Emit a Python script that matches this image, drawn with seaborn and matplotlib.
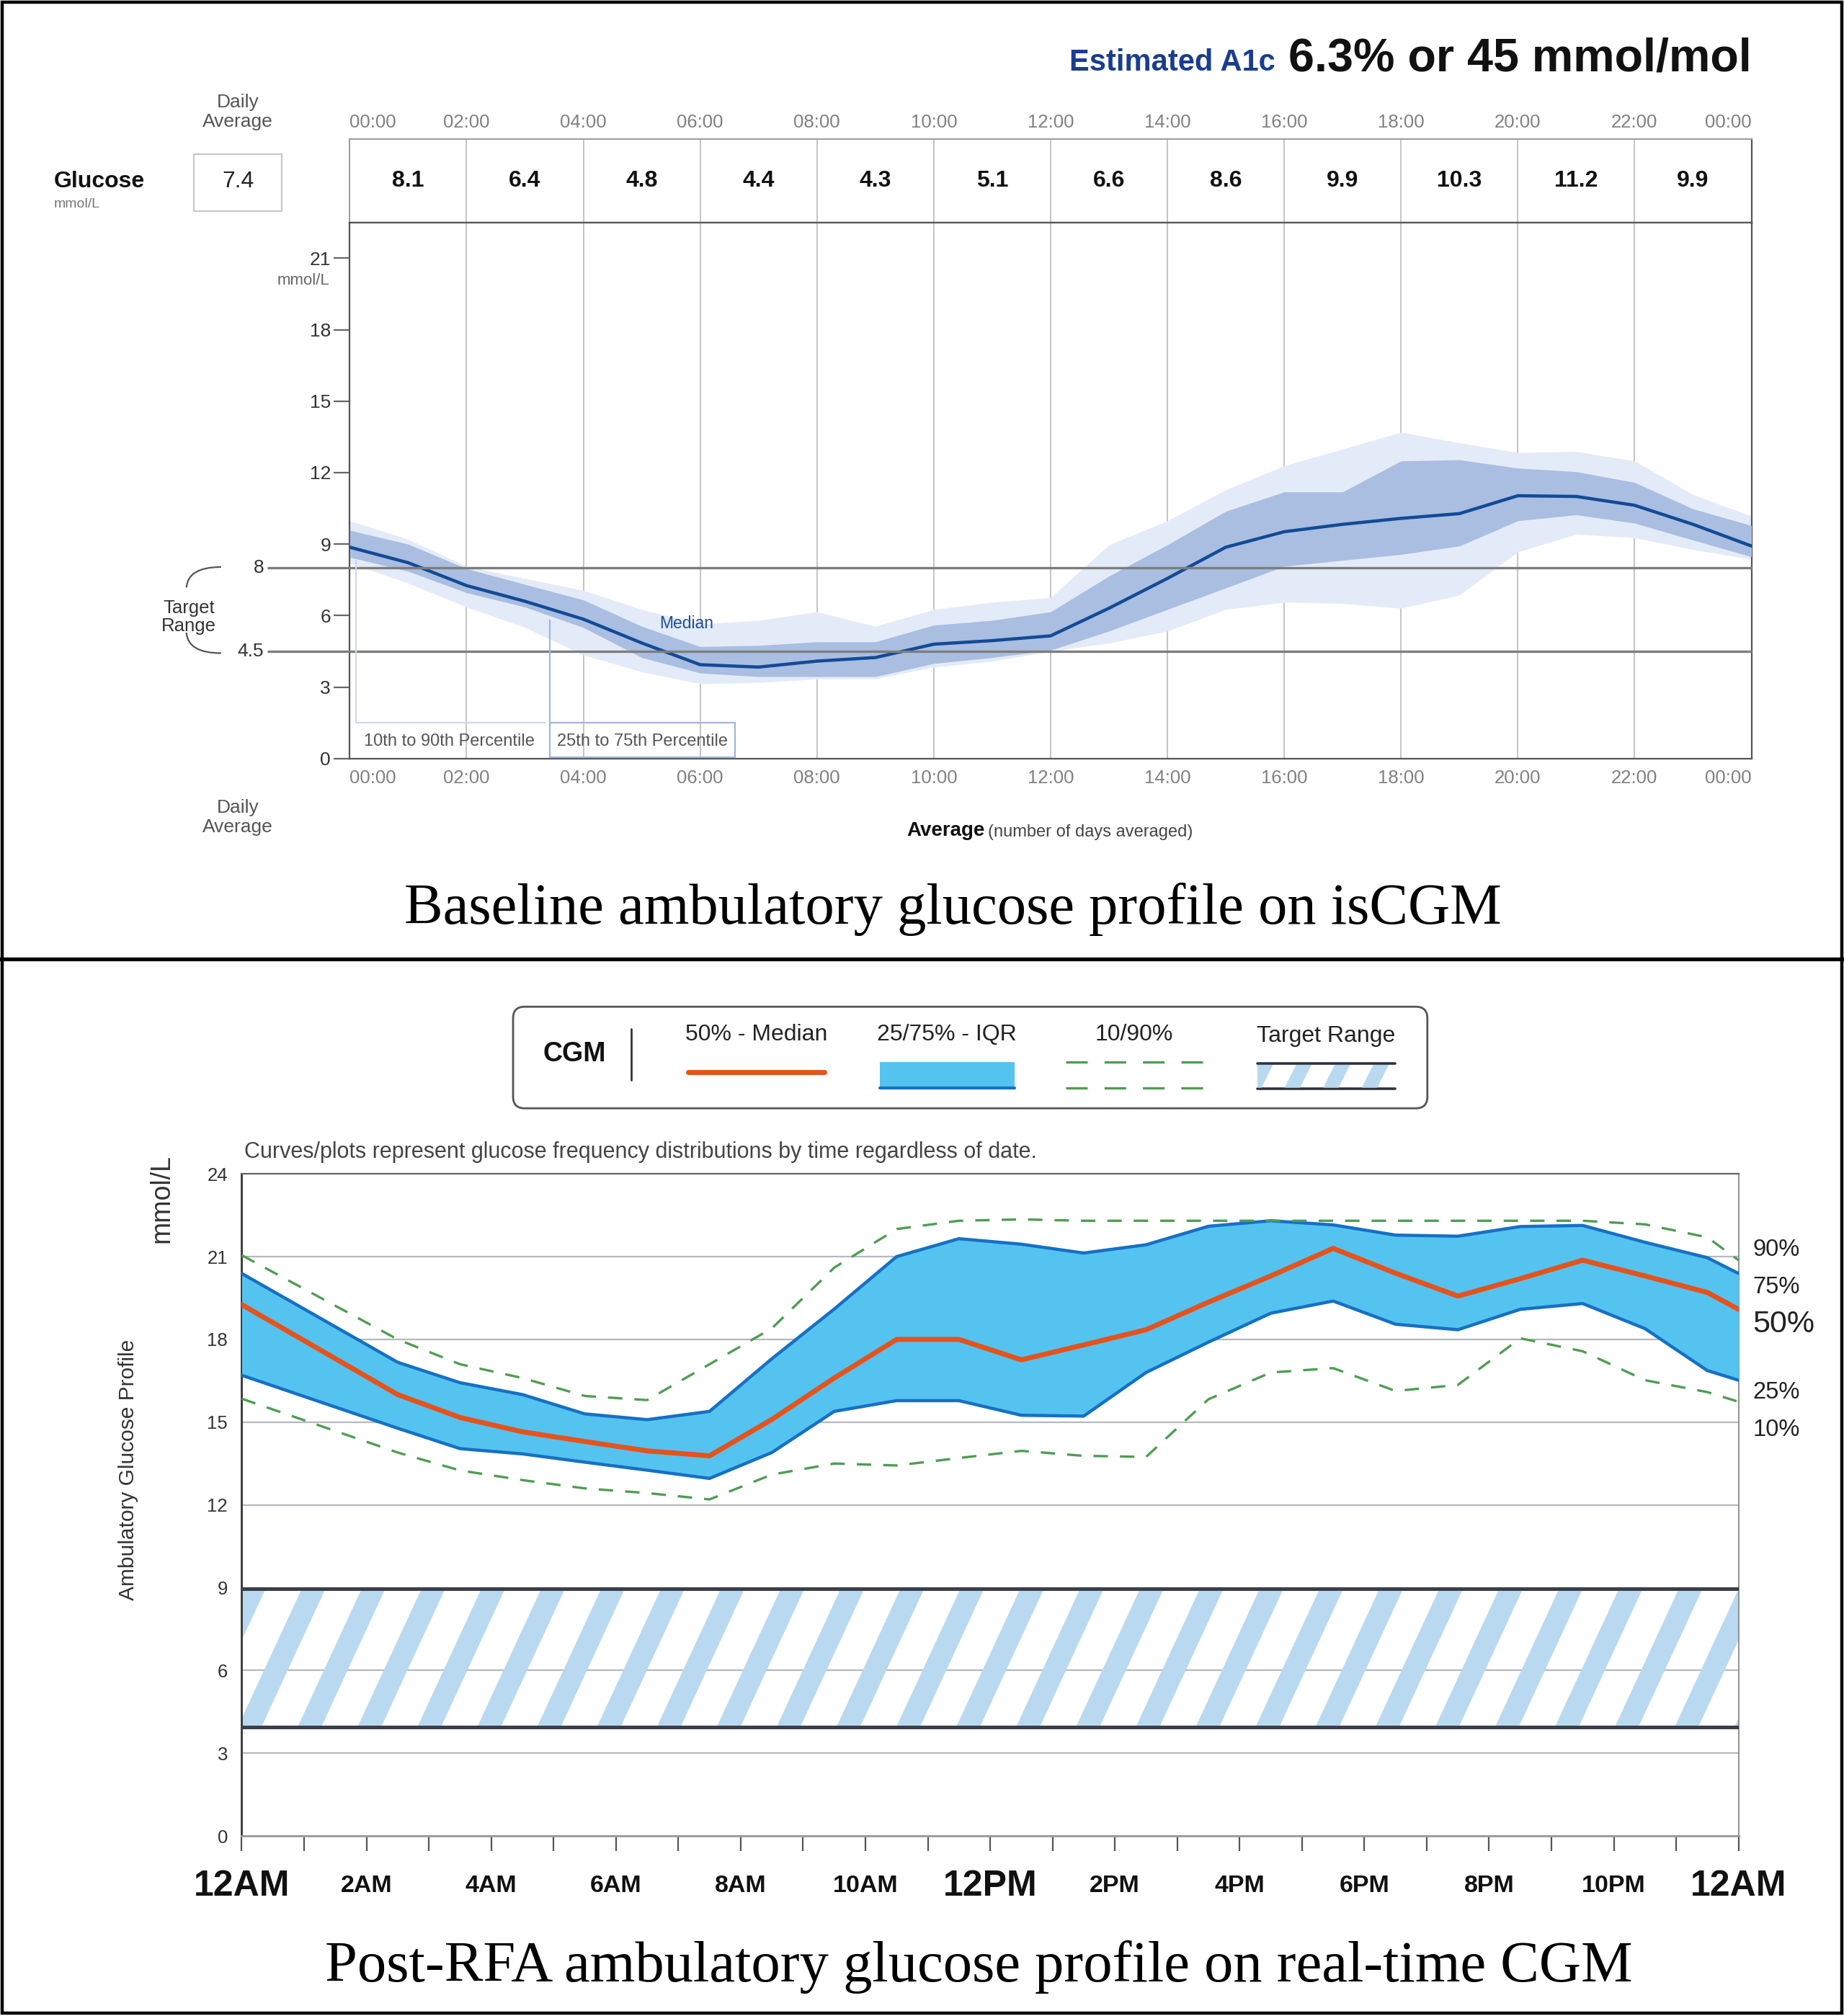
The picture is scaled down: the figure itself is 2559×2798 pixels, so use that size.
import numpy as np
import pandas as pd
import matplotlib
matplotlib.use("Agg")
import matplotlib.pyplot as plt
import seaborn as sns
from matplotlib.patches import Rectangle, FancyBboxPatch, Polygon, PathPatch
from matplotlib.path import Path

# ---------------- DATA: baseline isCGM profile (top) ----------------
hours_top = list(range(25))
median_top = [8.87, 8.22, 7.26, 6.60, 5.85, 4.85, 3.94, 3.84, 4.09, 4.24, 4.80, 4.95, 5.15,
              6.31, 7.56, 8.87, 9.52, 9.83, 10.08, 10.28, 11.03, 11.00, 10.63, 9.83, 8.92]
p75_top = [9.58, 9.00, 7.97, 7.31, 6.66, 5.55, 4.70, 4.75, 4.90, 4.90, 5.60, 5.80, 6.16,
           7.66, 8.97, 10.38, 11.19, 11.19, 12.49, 12.54, 12.19, 12.04, 11.59, 10.48, 9.78]
p25_top = [8.45, 7.86, 6.96, 6.36, 5.50, 4.24, 3.59, 3.44, 3.44, 3.44, 3.99, 4.24, 4.55,
           5.35, 6.26, 7.16, 8.07, 8.32, 8.57, 8.92, 9.98, 10.23, 9.88, 9.17, 8.47]
p90_top = [9.98, 9.20, 8.07, 7.56, 7.06, 6.26, 5.65, 5.80, 6.16, 5.55, 6.26, 6.56, 6.76,
           8.97, 9.98, 11.28, 12.29, 12.99, 13.70, 13.25, 12.84, 12.89, 12.49, 11.08, 10.18]
p10_top = [8.20, 7.36, 6.36, 5.50, 4.35, 3.64, 3.14, 3.19, 3.34, 3.35, 3.84, 4.09, 4.50,
           4.85, 5.35, 6.26, 6.56, 6.51, 6.31, 6.86, 8.67, 9.42, 9.27, 8.77, 8.37]
target_top = [4.5, 8.0]
header_avgs = [8.1, 6.4, 4.8, 4.4, 4.3, 5.1, 6.6, 8.6, 9.9, 10.3, 11.2, 9.9]
daily_avg = 7.4
time_ticks = list(range(0, 25, 2))
time_labels = ["00:00", "02:00", "04:00", "06:00", "08:00", "10:00", "12:00",
               "14:00", "16:00", "18:00", "20:00", "22:00", "00:00"]
top_yticks = [0, 3, 6, 9, 12, 15, 18, 21]

# ---------------- DATA: post-RFA real-time CGM profile (bottom) ----------------
hours_cgm = [0, 2.5, 3.5, 4.5, 5.5, 6.5, 7.5, 8.5, 9.5, 10.5, 11.5, 12.5, 13.5, 14.5,
             15.5, 16.5, 17.5, 18.5, 19.5, 20.5, 21.5, 22.5, 23.5, 24]
median_cgm = [19.26, 16.00, 15.17, 14.65, 14.30, 13.96, 13.78, 15.10, 16.60, 18.00, 18.00, 17.26,
              17.80, 18.35, 19.35, 20.30, 21.30, 20.40, 19.57, 20.20, 20.87, 20.30, 19.70, 19.09]
p75_cgm = [20.39, 17.17, 16.43, 16.00, 15.30, 15.09, 15.39, 17.30, 19.10, 21.00, 21.65, 21.45,
           21.13, 21.43, 22.10, 22.30, 22.15, 21.78, 21.74, 22.09, 22.13, 21.52, 20.96, 20.39]
p25_cgm = [16.70, 14.78, 14.04, 13.85, 13.55, 13.26, 12.96, 13.90, 15.39, 15.78, 15.78, 15.25,
           15.22, 16.80, 17.90, 18.95, 19.39, 18.55, 18.35, 19.09, 19.30, 18.39, 16.87, 16.52]
p90_cgm = [21.05, 18.00, 17.10, 16.60, 15.95, 15.80, 17.10, 18.40, 20.60, 22.00, 22.30, 22.35,
           22.30, 22.30, 22.30, 22.30, 22.30, 22.30, 22.30, 22.30, 22.30, 22.17, 21.70, 20.87]
p10_cgm = [15.85, 13.90, 13.25, 12.90, 12.60, 12.43, 12.20, 13.10, 13.50, 13.43, 13.70, 13.96,
           13.78, 13.74, 15.83, 16.80, 16.96, 16.13, 16.35, 18.04, 17.57, 16.52, 16.09, 15.74]
target_cgm = [3.95, 8.95]
cgm_ticks = list(range(0, 25, 2))
cgm_labels = ["12AM", "2AM", "4AM", "6AM", "8AM", "10AM", "12PM",
              "2PM", "4PM", "6PM", "8PM", "10PM", "12AM"]
cgm_yticks = list(range(0, 25, 3))
right_pct_labels = ["90%", "75%", "50%", "25%", "10%"]

# ---------------- style ----------------
sns.set_theme(style="white")
plt.rcParams["font.family"] = ["Liberation Sans", "DejaVu Sans"]
SERIF = "Liberation Serif"

PX_W, PX_H = 1434, 1568
fig = plt.figure(figsize=(25.59, 27.98), dpi=100)
fig.patch.set_facecolor("white")


def rect(x0, y0, x1, y1):
    return [x0 / PX_W, 1 - y1 / PX_H, (x1 - x0) / PX_W, (y1 - y0) / PX_H]


ax0 = fig.add_axes(rect(272, 108, 1362, 173))   # header row
ax1 = fig.add_axes(rect(272, 173, 1362, 590))   # baseline AGP
ax2 = fig.add_axes(rect(188, 913, 1352, 1428))  # post-RFA AGP
cv = fig.add_axes([0, 0, 1, 1])                 # annotation canvas
cv.set_zorder(10)
cv.patch.set_alpha(0)
cv.axis("off")

# ======================= TOP CHART =======================
ax1.fill_between(hours_top, p10_top, p90_top, color="#e4ebf8", lw=0, zorder=2)
ax1.fill_between(hours_top, p25_top, p75_top, color="#a9bee1", lw=0, zorder=3)
sns.lineplot(x=hours_top, y=median_top, ax=ax1, color="#134a95", lw=3.2, zorder=4)
ax1.hlines(target_top, -1.41, 24, colors="#7d7d7d", lw=2.4, clip_on=False, zorder=5)
ax1.set_xlim(0, 24)
ax1.set_ylim(0, 22.5)
ax1.set_xticks(time_ticks)
ax1.set_xticklabels(time_labels)
ax1.set_yticks(top_yticks)
ax1.grid(axis="x", color="#c4c4c4", lw=1.4, zorder=1)
ax1.grid(axis="y", visible=False)
ax1.tick_params(axis="x", length=0, pad=11, labelsize=18.5, labelcolor="#808080")
ax1.tick_params(axis="y", length=16, width=1.6, color="#666666", labelsize=19,
                labelcolor="#333333", pad=3, left=True)
for s in ax1.spines.values():
    s.set_color("#555555")
    s.set_linewidth(1.6)
labs = ax1.get_xticklabels()
labs[0].set_ha("left")
labs[-1].set_ha("right")

ax1.text(5.77, 5.67, "Median", color="#1f4e9a", fontsize=16.5, ha="center", va="center", zorder=6)
# percentile callouts
ax1.plot([0.11, 0.11, 3.35], [8.3, 1.5, 1.5], color="#cbd8ef", lw=1.6, zorder=5)
ax1.text(1.70, 0.72, "10th to 90th Percentile", fontsize=17, color="#555555",
         ha="center", va="center", zorder=6)
ax1.plot([3.43, 3.43], [5.8, 1.5], color="#9fb6dd", lw=1.6, zorder=5)
ax1.add_patch(Rectangle((3.43, 0.05), 3.17, 1.45, fill=False, ec="#9fb6dd", lw=1.6, zorder=5))
ax1.text(5.01, 0.72, "25th to 75th Percentile", fontsize=17, color="#555555",
         ha="center", va="center", zorder=6)
ax1.text(-1.47, 8.0, "8", fontsize=19, color="#333333", ha="right", va="center")
ax1.text(-1.47, 4.5, "4.5", fontsize=19, color="#333333", ha="right", va="center")

# header row with 2-hourly averages
ax0.set_xlim(0, 24)
ax0.set_ylim(0, 1)
ax0.set_xticks(time_ticks)
ax0.set_xticklabels(time_labels)
ax0.xaxis.tick_top()
ax0.set_yticks([])
ax0.grid(axis="x", color="#c4c4c4", lw=1.4)
ax0.grid(axis="y", visible=False)
ax0.tick_params(axis="x", length=0, pad=8, labelsize=18.5, labelcolor="#808080", top=True, bottom=False)
labs = ax0.get_xticklabels()
labs[0].set_ha("left")
labs[-1].set_ha("right")
for k in ["top", "left"]:
    ax0.spines[k].set_color("#9a9a9a")
    ax0.spines[k].set_linewidth(1.4)
for k in ["bottom", "right"]:
    ax0.spines[k].set_color("#555555")
    ax0.spines[k].set_linewidth(1.6)
for i, v in enumerate(header_avgs):
    ax0.text(1 + 2 * i, 0.5, f"{v:.1f}", fontsize=23, fontweight="bold", color="#111111",
             ha="center", va="center")

# ======================= BOTTOM CHART =======================
def stripes(ax, x0, x1, ylo, yhi, period, width, shift, color, zorder, clip=None):
    s = x0 - abs(shift) - period
    while s < x1 + period:
        poly = Polygon([(s, ylo), (s + width, ylo), (s + width + shift, yhi), (s + shift, yhi)],
                       closed=True, fc=color, ec="none", zorder=zorder)
        ax.add_patch(poly)
        if clip is not None:
            poly.set_clip_path(clip)
        s += period


ax2.set_xlim(0, 24)
ax2.set_ylim(0, 24)
stripes(ax2, 0, 24, target_cgm[0], target_cgm[1], 0.96, 0.38,
        (target_cgm[1] - target_cgm[0]) / 4.88, "#b9d9f1", 2)
ax2.hlines(target_cgm, 0, 24, colors="#3b3f4a", lw=3.6, zorder=6)
ax2.fill_between(hours_cgm, p25_cgm, p75_cgm, color="#55c3f0", lw=0, zorder=3)
sns.lineplot(x=hours_cgm, y=p75_cgm, ax=ax2, color="#1670c4", lw=3.2, zorder=4)
sns.lineplot(x=hours_cgm, y=p25_cgm, ax=ax2, color="#1670c4", lw=3.2, zorder=4)
sns.lineplot(x=hours_cgm, y=median_cgm, ax=ax2, color="#e5531c", lw=5, zorder=5)
sns.lineplot(x=hours_cgm, y=p90_cgm, ax=ax2, color="#4f9d52", lw=2.4, zorder=5)
ax2.lines[-1].set_dashes([6, 5])
sns.lineplot(x=hours_cgm, y=p10_cgm, ax=ax2, color="#4f9d52", lw=2.4, zorder=5)
ax2.lines[-1].set_dashes([6, 5])

ax2.set_yticks(cgm_yticks)
ax2.grid(axis="y", color="#b7b7bf", lw=1.6, zorder=1)
ax2.grid(axis="x", visible=False)
ax2.set_xticks(cgm_ticks)
ax2.set_xticks(list(range(1, 24, 2)), minor=True)
ax2.set_xticklabels(cgm_labels)
ax2.tick_params(axis="x", which="both", direction="out", length=15, width=1.6,
                color="#555555", bottom=True, pad=35)
ax2.tick_params(axis="y", length=0, pad=14, labelsize=18.5, labelcolor="#333333")
for lab in ax2.get_xticklabels():
    big = lab.get_text() in ("12AM", "12PM")
    lab.set_fontweight("bold")
    lab.set_fontsize(36 if big else 24.5)
    lab.set_color("#111111")
    lab.set_va("center")
ax2.spines["left"].set_color("#333333")
ax2.spines["left"].set_linewidth(2.0)
ax2.spines["top"].set_color("#666666")
ax2.spines["top"].set_linewidth(1.6)
ax2.spines["right"].set_color("#888888")
ax2.spines["right"].set_linewidth(1.3)
ax2.spines["bottom"].set_color("#9a9a9a")
ax2.spines["bottom"].set_linewidth(2.0)

# ======================= CANVAS ANNOTATIONS =======================
def T(x, y, s, **kw):
    cv.text(x, y, s, **kw)


# frame & divider
cv.add_patch(Rectangle((1.5, 1.5), PX_W - 3, PX_H - 3.5, fill=False, ec="black", lw=3.2))
cv.plot([0, PX_W], [746, 746], color="black", lw=3.8)

# top header texts
T(992, 55, "Estimated A1c", fontsize=30, fontweight="bold", color="#1a3d8f", ha="right", va="baseline")
T(1362, 55, "6.3% or 45 mmol/mol", fontsize=46.5, fontweight="bold", color="#111111", ha="right", va="baseline")
T(185, 87, "Daily\nAverage", fontsize=19, color="#555555", ha="center", va="center", linespacing=1.15)
cv.add_patch(Rectangle((151, 120), 68, 44, fill=False, ec="#c8c8c8", lw=1.6))
T(185, 141, f"{daily_avg:.1f}", fontsize=23, color="#222222", ha="center", va="center")
T(42, 141, "Glucose", fontsize=23, fontweight="bold", color="#111111", ha="left", va="center")
T(42, 159, "mmol/L", fontsize=14, color="#777777", ha="left", va="center")
T(236, 218, "mmol/L", fontsize=16, color="#666666", ha="center", va="center")
T(147, 480, "Target\nRange", fontsize=18.5, color="#333333", ha="center", va="center", linespacing=1.1)
for p in ([(172, 441), (146, 441), (145, 457)], [(172, 508), (146, 508), (145, 492)]):
    cv.add_patch(PathPatch(Path(p, [Path.MOVETO, Path.CURVE3, Path.CURVE3]),
                           fill=False, ec="#555555", lw=1.6))
T(185, 636, "Daily\nAverage", fontsize=19, color="#555555", ha="center", va="center", linespacing=1.15)
T(705, 646, "Average", fontsize=20, fontweight="bold", color="#111111", ha="left", va="center")
T(768, 647, "(number of days averaged)", fontsize=17, color="#444444", ha="left", va="center")
T(741, 707, "Baseline ambulatory glucose profile on isCGM", fontfamily=SERIF, fontsize=58,
  color="#000000", ha="center", va="center")

# bottom legend
cv.add_patch(FancyBboxPatch((399, 783), 711, 79, boxstyle="round,pad=0,rounding_size=9",
                            fc="white", ec="#555555", lw=2.0))
T(447, 820, "CGM", fontsize=27, fontweight="bold", color="#111111", ha="center", va="center")
cv.plot([491, 491], [800, 840], color="#333333", lw=2.0)
T(588, 805, "50% - Median", fontsize=23, color="#222222", ha="center", va="center")
cv.plot([535, 641], [834, 834], color="#e5531c", lw=5)
T(736, 805, "25/75% - IQR", fontsize=23, color="#222222", ha="center", va="center")
cv.add_patch(Rectangle((684, 826), 105, 20, fc="#55c3f0", ec="none"))
cv.plot([684, 789], [846, 846], color="#1670c4", lw=3)
T(882, 805, "10/90%", fontsize=23, color="#222222", ha="center", va="center")
for yy in (826, 846):
    ln, = cv.plot([829, 935], [yy, yy], color="#4f9d52", lw=2.4)
    ln.set_dashes([9, 7])
T(1031, 806, "Target Range", fontsize=23, color="#222222", ha="center", va="center")
clip_r = Rectangle((978, 828), 107, 18, transform=cv.transData, fc="none", ec="none")
stripes(cv, 978, 1085, 846, 828, 30, 12, 9, "#b9d9f1", 3, clip=clip_r)
cv.plot([978, 1085], [827, 827], color="#2e323c", lw=2.6)
cv.plot([978, 1085], [847, 847], color="#2e323c", lw=2.6)

# bottom chart side texts
T(190, 896, "Curves/plots represent glucose frequency distributions by time regardless of date.",
  fontsize=22, color="#444444", ha="left", va="center")
T(126, 932, "mmol/L", fontsize=27, color="#333333", rotation=90, ha="center", va="center")
T(100, 1143, "Ambulatory Glucose Profile", fontsize=21.5, color="#333333", rotation=90, ha="center", va="center")
for lab, yy in zip(right_pct_labels, [972, 1001, 1030, 1083, 1112]):
    T(1363, yy, lab, fontsize=(31 if lab == "50%" else 23.5), color="#222222", ha="left", va="center")
T(761, 1530, "Post-RFA ambulatory glucose profile on real-time CGM", fontfamily=SERIF, fontsize=58,
  color="#000000", ha="center", va="center")

cv.set_xlim(0, PX_W)
cv.set_ylim(PX_H, 0)

fig.savefig("out.png", dpi=100, facecolor="white")
